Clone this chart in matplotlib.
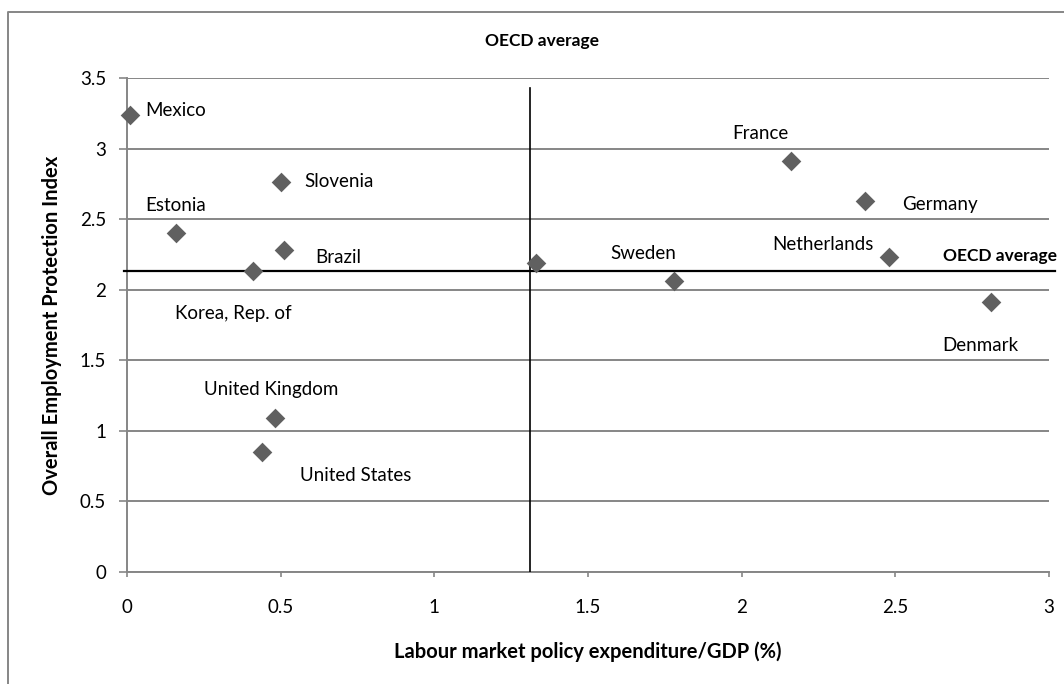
import matplotlib.pyplot as plt
from matplotlib.lines import Line2D

# data
countries = ['Mexico', 'Estonia', 'Korea, Rep. of', 'Brazil', 'Slovenia',
             'United Kingdom', 'United States', '', 'Sweden', 'France',
             'Germany', 'Netherlands', 'Denmark']
lmp_spend = [0.01, 0.16, 0.41, 0.51, 0.50, 0.48, 0.44, 1.33, 1.78, 2.16, 2.40, 2.48, 2.81]
epl_index = [3.24, 2.40, 2.13, 2.28, 2.76, 1.09, 0.85, 2.19, 2.06, 2.91, 2.63, 2.23, 1.91]

oecd_avg_x = 1.31
oecd_avg_y = 2.13
vline_top = 3.43

# label offsets in points (dx, dy) from each marker
offsets = {
    'Mexico': (11, 3), 'Estonia': (-22, 20), 'Korea, Rep. of': (-56, -30),
    'Brazil': (23, -5), 'Slovenia': (17, 1), 'United Kingdom': (-51, 21),
    'United States': (27, -17), 'Sweden': (-46, 20), 'France': (-42, 20),
    'Germany': (27, -3), 'Netherlands': (-84, 9), 'Denmark': (-35, -31),
}

plt.rcParams['font.family'] = ['Lato', 'DejaVu Sans']

fig = plt.figure(figsize=(10.64, 6.84), dpi=100)
ax = fig.add_axes([0.1194, 0.1637, 0.8665, 0.7223])

gray = '#868686'
ax.set_xlim(0, 3)
ax.set_ylim(0, 3.5)
ax.set_xticks([0, 0.5, 1, 1.5, 2, 2.5, 3])
ax.set_xticklabels(['0', '0.5', '1', '1.5', '2', '2.5', '3'])
ax.set_yticks([0, 0.5, 1, 1.5, 2, 2.5, 3, 3.5])
ax.set_yticklabels(['0', '0.5', '1', '1.5', '2', '2.5', '3', '3.5'])
ax.yaxis.grid(True, color=gray, linewidth=1.4)
ax.set_axisbelow(True)
for s in ['top', 'right']:
    ax.spines[s].set_visible(False)
for s in ['left', 'bottom']:
    ax.spines[s].set_color(gray)
    ax.spines[s].set_linewidth(1.4)
ax.tick_params(axis='x', colors=gray, length=3.6, width=1.2, labelsize=13.5,
               labelcolor='black', pad=16)
ax.tick_params(axis='y', colors=gray, length=6, width=1.2, labelsize=13.5,
               labelcolor='black', pad=9)

# OECD average lines
ax.plot([oecd_avg_x, oecd_avg_x], [0, vline_top], color='black', linewidth=1.2, zorder=3)
ax.plot([-0.01, 3.02], [oecd_avg_y, oecd_avg_y], color='black', linewidth=1.6,
        zorder=3, clip_on=False)

ax.scatter(lmp_spend, epl_index, marker='D', s=100, color='#606060', zorder=4,
           clip_on=False, linewidths=0)

for name, x, y in zip(countries, lmp_spend, epl_index):
    if not name:
        continue
    dx, dy = offsets[name]
    ax.annotate(name, (x, y), xytext=(dx, dy), textcoords='offset points',
                fontsize=13.5, va='center', ha='left')

ax.text(0.45, 3.76, 'OECD average', fontsize=12.5, fontweight='bold',
        ha='center', va='center', transform=ax.get_yaxis_transform())
ax.text(3.026, oecd_avg_y + 0.05, 'OECD average', fontsize=12.5, fontweight='bold',
        ha='right', va='bottom')

ax.set_xlabel('Labour market policy expenditure/GDP (%)', fontsize=14.5,
              fontweight='bold', labelpad=18)
ax.set_ylabel('Overall Employment Protection Index', fontsize=14.5,
              fontweight='bold', labelpad=13)

# outer chart border
fig.add_artist(Line2D([8 / 1064, 8 / 1064, 1.0], [0.0, 1 - 12 / 684, 1 - 12 / 684],
                      transform=fig.transFigure, color=gray, linewidth=1.4))

fig.savefig('out.png', dpi=100)
